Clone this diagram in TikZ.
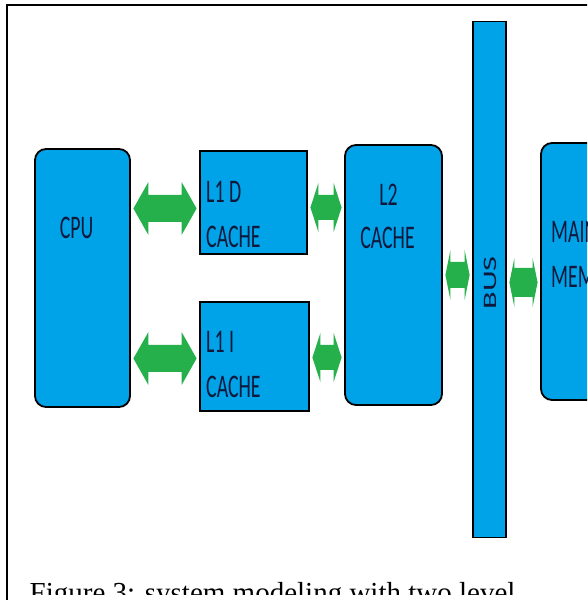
\documentclass[tikz,border=0pt]{standalone}
\usepackage{fontspec}
\usetikzlibrary{calc}
\newfontfamily\boxfont{Carlito}
\newfontfamily\capfont{Liberation Serif}
\definecolor{boxblue}{RGB}{0,162,232}
\definecolor{arrowgreen}{RGB}{38,176,76}
\definecolor{textnavy}{RGB}{15,25,60}
\tikzset{
  unit/.style={draw=black, line width=1.8pt, fill=boxblue, inner sep=0pt},
  roundunit/.style={unit, rounded corners=11pt},
  lbl/.style={inner sep=0pt, text=textnavy, font=\boxfont\fontsize{33}{33}\selectfont},
  arrowfill/.style={fill=arrowgreen}
}
% #1 left node, #2 right node, #3 centre y, #4 half head, #5 half shaft, #6 head length
\newcommand\dblarrow[6]{%
  \fill[arrowfill] let \p1=(#1.east), \p2=(#2.west) in
    (\x1+2.5pt,#3pt)
    -- (\x1+2.5pt+#6pt,#3pt+#4pt) -- (\x1+2.5pt+#6pt,#3pt+#5pt)
    -- (\x2-2.5pt-#6pt,#3pt+#5pt) -- (\x2-2.5pt-#6pt,#3pt+#4pt)
    -- (\x2-2.5pt,#3pt)
    -- (\x2-2.5pt-#6pt,#3pt-#4pt) -- (\x2-2.5pt-#6pt,#3pt-#5pt)
    -- (\x1+2.5pt+#6pt,#3pt-#5pt) -- (\x1+2.5pt+#6pt,#3pt-#4pt) -- cycle;}
\begin{document}
\begin{tikzpicture}[x=1pt,y=1pt]
\useasboundingbox (0,0) rectangle (587,600);
\clip (0,0) rectangle (587,600);
\fill[white] (0,0) rectangle (587,600);
% caption (cut off at the lower edge)
\node[inner sep=0pt, anchor=base west, font=\capfont\fontsize{29}{29}\selectfont] (cap) at (29.5,-2.2) {Figure 3: system modeling with two level};
\fill[white] (9,0) rectangle (587,5);
% frame
\draw[line width=2pt] (7,-20) -- (7,595) -- (620,595);
% units
\node[roundunit, minimum width=95pt, minimum height=258pt] (cpu) at (82.5,322) {};
\node[unit, minimum width=107pt, minimum height=103pt] (l1d) at (253.5,397.5) {};
\node[unit, minimum width=109pt, minimum height=109pt] (l1i) at (254.5,243.5) {};
\node[roundunit, minimum width=97pt, minimum height=260pt] (l2) at (393.5,325) {};
\node[unit, minimum width=33pt, minimum height=516pt] (bus) at (489.5,320.5) {};
\node[roundunit, minimum width=98pt, minimum height=257pt] (mem) at (590,328.5) {};
% labels
\node[lbl, anchor=base] (tcpu) at (76.5,361) {\scalebox{0.6}[1]{CPU}};
\node[lbl, anchor=base west] (tl1d) at (206,397) {\scalebox{0.6}[1]{L1 D}};
\node[lbl, anchor=base west] (tl1dc) at (206,352) {\scalebox{0.6}[1]{CACHE}};
\node[lbl, anchor=base west] (tl1i) at (206,247) {\scalebox{0.6}[1]{L1 I}};
\node[lbl, anchor=base west] (tl1ic) at (206,202) {\scalebox{0.6}[1]{CACHE}};
\node[lbl, anchor=base] (tl2) at (388.5,394) {\scalebox{0.6}[1]{L2}};
\node[lbl, anchor=base] (tl2c) at (387.5,351) {\scalebox{0.6}[1]{CACHE}};
\node[lbl, anchor=base west] (tmem) at (551,357) {\scalebox{0.6}[1]{MAIN}};
\node[lbl, anchor=base west] (tmemb) at (551,312) {\scalebox{0.6}[1]{MEMORY}};
\node[inner sep=0pt, text=textnavy, rotate=90, font=\boxfont\fontsize{19}{19}\selectfont] (tbus) at (490.5,317) {\scalebox{1.7}[1]{BUS}};
% arrows
\dblarrow{cpu}{l1d}{391.5}{26.5}{13.5}{15}
\dblarrow{cpu}{l1i}{241.5}{26.5}{13.5}{15}
\dblarrow{l1d}{l2}{392.5}{24.5}{12.5}{8}
\dblarrow{l1i}{l2}{242.5}{24.5}{12.5}{8}
\dblarrow{l2}{bus}{325}{25}{13}{5}
\dblarrow{bus}{mem}{317.5}{24.5}{14.5}{5}
\end{tikzpicture}
\end{document}
